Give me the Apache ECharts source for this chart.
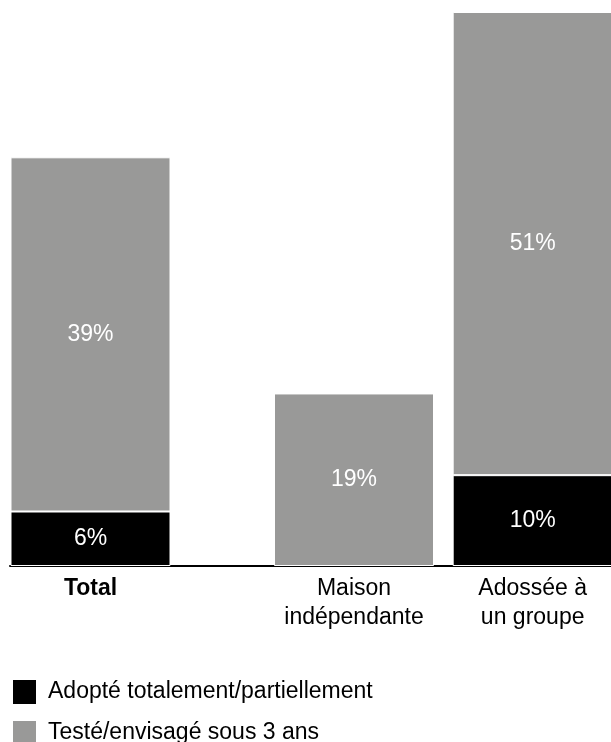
<!DOCTYPE html>
<html>
<head>
<meta charset="utf-8">
<script src="https://cdn.jsdelivr.net/npm/echarts@6/dist/echarts.min.js"></script>
<style>
  html, body { margin: 0; padding: 0; background: #fff; }
  #chart { width: 611px; height: 742px; }
</style>
</head>
<body>
<div id="chart"></div>
<script>
// Categories and stacked shares (%)
const categories = ['Total', 'Maison\nindépendante', 'Adossée à\nun groupe'];
const adopte = [6, 0, 10];       // Adopté totalement/partiellement
const teste = [39, 19, 51];      // Testé/envisagé sous 3 ans
const seriesNames = ['Adopté totalement/partiellement', 'Testé/envisagé sous 3 ans'];
const colors = ['#000000', '#999998'];

const FONT = 'Liberation Sans, Arial, sans-serif';
const yMax = 61;

// Total sits in its own grid; the two sub-groups share a second grid
// whose first slot is left empty to open the gap after "Total".
const cats0 = categories.slice(0, 1);
const cats1 = [''].concat(categories.slice(1));
const toBar = v => (v === 0 ? '-' : v);
const adopte0 = adopte.slice(0, 1).map(toBar);
const teste0 = teste.slice(0, 1).map(toBar);
const adopte1 = ['-'].concat(adopte.slice(1).map(toBar));
const teste1 = ['-'].concat(teste.slice(1).map(toBar));

const barLabel = {
  show: true,
  position: 'inside',
  color: '#ffffff',
  fontFamily: FONT,
  fontSize: 23,
  formatter: p => (p.value ? p.value + '%' : '')
};

function xAxisFor(gridIndex, data, bold) {
  return {
    type: 'category',
    gridIndex: gridIndex,
    data: data,
    axisLine: { show: true, lineStyle: { color: '#000', width: 2 } },
    axisTick: { show: false },
    axisLabel: {
      color: '#000',
      fontFamily: FONT,
      fontSize: 23,
      fontWeight: bold ? 'bold' : 'normal',
      lineHeight: 29,
      margin: 8,
      interval: 0
    }
  };
}

function yAxisFor(gridIndex) {
  return {
    type: 'value',
    gridIndex: gridIndex,
    min: 0,
    max: yMax,
    show: false,
    splitLine: { show: false }
  };
}

function barSeries(name, data, color, gridIndex, stack) {
  return {
    name: name,
    type: 'bar',
    stack: stack,
    xAxisIndex: gridIndex,
    yAxisIndex: gridIndex,
    barWidth: 160,
    data: data,
    itemStyle: { color: color, borderColor: '#ffffff', borderWidth: 1 },
    label: barLabel,
    emphasis: { disabled: true }
  };
}

function legendItem(name, top) {
  return {
    orient: 'vertical',
    left: 6,
    top: top,
    itemWidth: 25,
    itemHeight: 26,
    icon: 'rect',
    selectedMode: false,
    data: [name],
    textStyle: {
      color: '#000',
      fontFamily: FONT,
      fontSize: 23,
      padding: [0, 0, 0, 6]
    }
  };
}

const chart = echarts.init(document.getElementById('chart'), null, { renderer: 'canvas' });
chart.setOption({
  animation: false,
  backgroundColor: '#ffffff',
  color: colors,
  grid: [
    { left: 10, width: 161, top: 12, bottom: 176, containLabel: false, outerBoundsMode: 'none' },
    { left: 86, width: 536, top: 12, bottom: 176, containLabel: false, outerBoundsMode: 'none' }
  ],
  xAxis: [xAxisFor(0, cats0, true), xAxisFor(1, cats1, false)],
  yAxis: [yAxisFor(0), yAxisFor(1)],
  legend: [legendItem(seriesNames[0], 673), legendItem(seriesNames[1], 714)],
  series: [
    barSeries(seriesNames[0], adopte0, colors[0], 0, 'g0'),
    barSeries(seriesNames[1], teste0, colors[1], 0, 'g0'),
    barSeries(seriesNames[0], adopte1, colors[0], 1, 'g1'),
    barSeries(seriesNames[1], teste1, colors[1], 1, 'g1')
  ]
});
</script>
</body>
</html>
